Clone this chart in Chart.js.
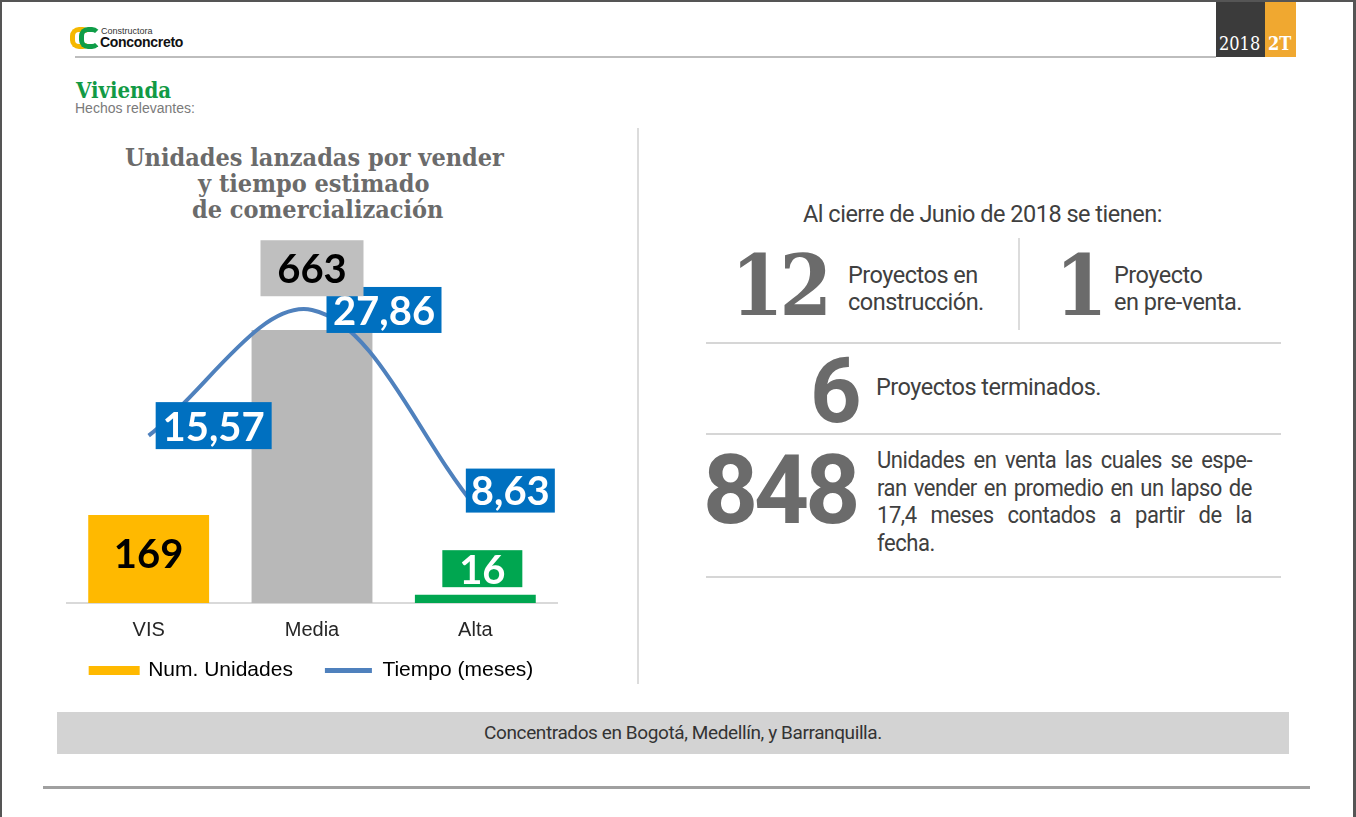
<!DOCTYPE html>
<html>
<head>
<meta charset="utf-8">
<script src="https://cdn.jsdelivr.net/npm/chart.js@4.4.0/dist/chart.umd.min.js"></script>
<style>
html, body { margin: 0; padding: 0; background: #fff; }
body { width: 1356px; height: 817px; position: relative; overflow: hidden; font-family: Roboto, sans-serif; }
.abs { position: absolute; white-space: nowrap; }
.slab { font-family: "DejaVu Serif Condensed", "DejaVu Serif", serif; font-stretch: condensed; font-weight: bold; }
.rt { color: #404040; font-size: 23.5px; letter-spacing: -0.5px; }
.big { color: #6b6b6b; font-weight: bold; }
.hr { position: absolute; left: 706px; width: 575px; height: 2px; background: #d6d6d6; }
.jl { text-align: justify; text-align-last: justify; white-space: nowrap; }
</style>
</head>
<body>

<!-- page frame -->
<div class="abs" style="left:0;top:0;width:1356px;height:2px;background:#555;"></div>
<div class="abs" style="left:0;top:0;width:2px;height:817px;background:#555;"></div>
<div class="abs" style="left:1353px;top:0;width:3px;height:817px;background:#555;"></div>

<!-- logo -->
<div class="abs" style="left:70px;top:27px;width:12px;height:12px;border:5px solid #f5b800;border-right-color:transparent;border-radius:9px;"></div>
<div class="abs" style="left:79px;top:27px;width:12px;height:12px;border:5px solid #0f9d48;border-right-color:transparent;border-radius:9px;"></div>
<div class="abs" style="left:101px;top:26px;font:9px 'Liberation Sans',sans-serif;color:#333;">Constructora</div>
<div class="abs" style="left:100px;top:34px;font:bold 14px 'Liberation Sans',sans-serif;color:#111;letter-spacing:-0.3px;">Conconcreto</div>

<!-- header line and period box -->
<div class="abs" style="left:75px;top:56px;width:1141px;height:2px;background:#bdbdbd;"></div>
<div class="abs" style="left:1216px;top:2px;width:49px;height:55px;background:#3b3b3b;"></div>
<div class="abs" style="left:1265px;top:2px;width:31px;height:55px;background:#f0a830;"></div>
<div class="abs slab" style="left:1219px;top:33px;font-size:18px;color:#fff;font-weight:normal;">2018</div>
<div class="abs slab" style="left:1268px;top:33px;font-size:18px;color:#fff;">2T</div>

<!-- section heading -->
<div class="abs slab" style="left:76px;top:77px;font-size:22px;color:#129a45;">Vivienda</div>
<div class="abs" style="left:75px;top:100px;font:14px 'Liberation Sans',sans-serif;color:#7a7a7a;">Hechos relevantes:</div>

<!-- chart title -->
<div class="abs slab" style="left:125px;top:145px;font-size:25px;color:#6b6b6b;line-height:26px;">Unidades lanzadas por vender</div>
<div class="abs slab" style="left:198px;top:171px;font-size:25px;color:#6b6b6b;line-height:26px;">y tiempo estimado</div>
<div class="abs slab" style="left:192px;top:197px;font-size:25px;color:#6b6b6b;line-height:26px;">de comercialización</div>

<!-- chart -->
<div class="abs" style="left:57px;top:200px;width:510px;height:491px;">
  <canvas id="combo"></canvas>
</div>

<!-- divider -->
<div class="abs" style="left:637px;top:128px;width:2px;height:556px;background:#dcdcdc;"></div>

<!-- right panel -->
<div class="abs rt" style="left:803px;top:200px;">Al cierre de Junio de 2018 se tienen:</div>
<div class="abs big slab" style="left:731px;top:241px;font-size:84px;line-height:90px;letter-spacing:-4px;">12</div>
<div class="abs rt" style="left:848px;top:262px;line-height:27px;">Proyectos en<br>construcción.</div>
<div class="abs" style="left:1018px;top:238px;width:2px;height:92px;background:#dcdcdc;"></div>
<div class="abs big slab" style="left:1055px;top:241px;font-size:84px;line-height:90px;">1</div>
<div class="abs rt" style="left:1114px;top:262px;line-height:27px;">Proyecto<br>en pre-venta.</div>
<div class="hr" style="top:342px;"></div>
<div class="abs big" style="left:810px;top:342px;font-size:90px;line-height:100px;font-family:Roboto,sans-serif;">6</div>
<div class="abs rt" style="left:876px;top:373px;">Proyectos terminados.</div>
<div class="hr" style="top:433px;"></div>
<div class="abs big" style="left:703px;top:440px;font-size:96px;line-height:100px;font-family:Roboto,sans-serif;letter-spacing:-4px;">848</div>
<div class="abs rt" style="left:877px;top:447px;width:400px;line-height:27.5px;white-space:normal;transform:scaleX(0.9375);transform-origin:0 0;">
  <div class="jl">Unidades en venta las cuales se espe-</div>
  <div class="jl">ran vender en promedio en un lapso de</div>
  <div class="jl">17,4 meses contados a partir de la</div>
  <div>fecha.</div>
</div>
<div class="hr" style="top:576px;"></div>

<!-- footer band -->
<div class="abs" style="left:57px;top:712px;width:1232px;height:42px;background:#d3d3d3;"></div>
<div class="abs" style="left:77px;top:721px;width:1212px;text-align:center;font-size:19px;color:#333;letter-spacing:-0.4px;">Concentrados en Bogotá, Medellín, y Barranquilla.</div>
<div class="abs" style="left:43px;top:786px;width:1267px;height:3px;background:#a0a0a0;"></div>

<script>
const categories = ['VIS', 'Media', 'Alta'];
const unidades = [169, 663, 16];
const tiempoMeses = [15.57, 27.86, 8.63];
const barColors = ['#ffb900', '#b8b8b8', '#00a650'];
const lineColor = '#4f81bd';
const seriesNames = ['Num. Unidades', 'Tiempo (meses)'];

// boxed value labels drawn on top of the marks
const boxLabels = {
  id: 'boxLabels',
  afterDatasetsDraw(chart, args, opts) {
    const ctx = chart.ctx;
    chart.data.datasets.forEach((ds, di) => {
      const st = opts.styles[ds.type];
      const meta = chart.getDatasetMeta(di);
      meta.data.forEach((el, i) => {
        const txt = String(ds.data[i]).replace('.', ',');
        const cx = el.x + st.dx[i];
        const cy = el.y + st.dy[i];
        ctx.save();
        if (st.w[i] > 0) {
          ctx.fillStyle = st.bg[i];
          ctx.fillRect(cx - st.w[i] / 2, cy - st.h[i] / 2, st.w[i], st.h[i]);
        }
        ctx.font = opts.font;
        ctx.fillStyle = st.color[i];
        ctx.textAlign = 'center';
        ctx.textBaseline = 'middle';
        ctx.fillText(txt, cx, cy + 2);
        ctx.restore();
      });
    });
  }
};

const data = {
  labels: categories,
  datasets: [
    {
      type: 'line',
      label: seriesNames[1],
      data: tiempoMeses,
      yAxisID: 'y1',
      borderColor: lineColor,
      borderWidth: 4,
      pointRadius: 0,
      tension: 0.35,
      clip: false,
      fill: false
    },
    {
      type: 'bar',
      label: seriesNames[0] + '\u2003',
      data: unidades,
      yAxisID: 'y',
      backgroundColor: barColors,
      barPercentage: 0.74,
      categoryPercentage: 1
    }
  ]
};

const config = {
  data: data,
  options: {
    responsive: true,
    maintainAspectRatio: false,
    animation: false,
    layout: { padding: { top: 130, left: 10, right: 10, bottom: 0 } },
    scales: {
      x: {
        grid: { display: false },
        border: { display: true, color: '#d9d9d9', width: 2 },
        ticks: { color: '#262626', padding: 7, font: { family: 'Liberation Sans', size: 20 } }
      },
      y: { display: false, min: 0, max: 525 },
      y1: { display: false, min: -0.8, max: 25.9 }
    },
    plugins: {
      tooltip: { enabled: false },
      legend: {
        position: 'bottom',
        labels: {
          color: '#404040',
          font: { family: 'Liberation Sans', size: 21 },
          boxWidth: 47,
          boxHeight: 5,
          padding: 11,
          sort: (a, b) => b.datasetIndex - a.datasetIndex,
          generateLabels: (chart) => chart.data.datasets.map((ds, i) => ({
            text: ds.label,
            datasetIndex: i,
            fillStyle: ds.type === 'line' ? lineColor : barColors[0],
            strokeStyle: ds.type === 'line' ? lineColor : barColors[0],
            lineWidth: ds.type === 'line' ? 0 : 4,
            hidden: false
          }))
        }
      },
      boxLabels: {
        font: 'bold 40px Lato',
        styles: {
          bar: {
            dx: [0, 0, 7], dy: [38, 10, -26],
            w: [0, 103, 80], h: [0, 56, 37],
            bg: ['rgba(0,0,0,0)', '#bfbfbf', '#00a650'],
            color: ['#000', '#000', '#fff']
          },
          line: {
            dx: [65, 72, 35], dy: [-10, 0, -16],
            w: [116, 115, 89], h: [47, 46, 44],
            bg: ['#0070c0', '#0070c0', '#0070c0'],
            color: ['#fff', '#fff', '#fff']
          }
        }
      }
    }
  },
  plugins: [boxLabels]
};

const myChart = new Chart(document.getElementById('combo'), config);
</script>
</body>
</html>
